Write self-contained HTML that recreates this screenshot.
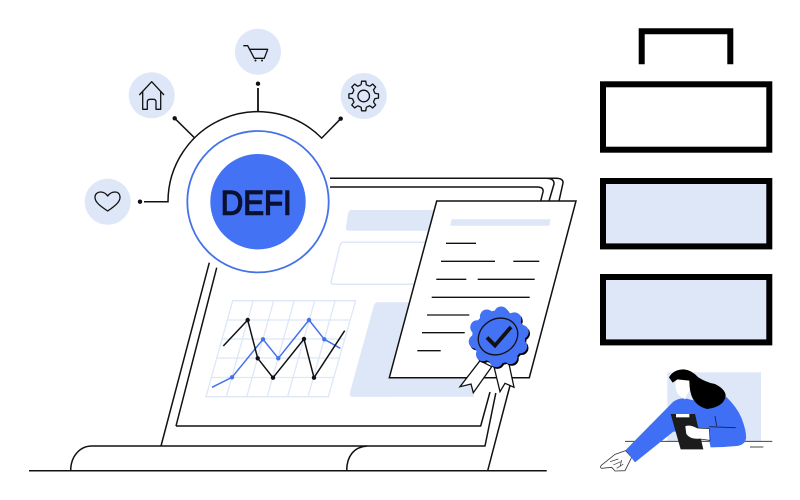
<!DOCTYPE html>
<html><head><meta charset="utf-8"><style>
html,body{margin:0;padding:0;background:#fff;width:800px;height:500px;overflow:hidden}
svg{display:block}
</style></head><body>
<svg width="800" height="500" viewBox="0 0 800 500" xmlns="http://www.w3.org/2000/svg">
<rect width="800" height="500" fill="#fff"/>
<!-- right boxes -->
<g fill="none" stroke="#000" stroke-width="6">
<path d="M641.7 64.3V31.3H730.3V64.3"/>
<rect x="603" y="84.3" width="166.3" height="65.4" fill="#fff"/>
<rect x="603" y="181" width="166.3" height="65.4" fill="#dde7f8"/>
<rect x="603" y="277" width="166.3" height="65.4" fill="#dde7f8"/>
</g>
<!-- laptop -->
<g fill="none" stroke="#111" stroke-width="1.5" stroke-linejoin="round">
<path d="M29 470.7H546.7"/>
<path d="M70.7 470.7C70.7 456 80 446 92 446H485L495.800 393"/>
<path d="M346.7 470.7C346.7 456 354 447 367 446"/>
<path d="M161 446L209.3 262.7"/>
<path d="M176 426L216.7 267.7"/>
<path d="M176 426H480.7L490 392"/>
<path d="M487.7 470.7L508.3 392L559 201L563 183Q563.500 178.300 556 178.300H330"/>
<path d="M549 201L554 184Q554.500 178.300 546 178.300"/>
<path d="M330 187H537Q544 187 543 192L540.700 201"/>
</g>
<!-- panels -->
<path d="M351 210H440L430 230.700H349Q345 230.700 346 227L348 213Q349 210 351 210Z" fill="#dde7f8"/>
<path d="M343 242.300H440V284.300H334Q330 284.300 331.500 280L340 245Q341 242.300 343 242.300Z" fill="#fff" stroke="#dde7f8" stroke-width="1.500"/>
<path d="M378 302.300H430L395 396.700H353Q349 396.700 350 392L374 305Q375 302.300 378 302.300Z" fill="#dde7f8"/>
<path d="M378 378H470L474 396.700H350Z" fill="#dde7f8"/>
<!-- chart -->
<g fill="none" stroke="#dde7f8" stroke-width="1.300">
<path d="M232.700 300.700H355.700L328.300 396.700H206Z"/>
<path d="M227.300 320H350.200M221.800 339H344.800M216.400 358H339.400M210.900 377.500H333.800"/>
<path d="M253.200 300.700L226.400 396.700M273.700 300.700L246.800 396.700M294.200 300.700L267.200 396.700M314.700 300.700L287.600 396.700M335.200 300.700L308 396.700"/>
</g>
<polyline points="212,387.300 232,377.300 263,339.300 278.300,358.300 309,320 324.300,339.300 340.300,348.300" fill="none" stroke="#4472e8" stroke-width="1.500"/>
<g fill="#4472e8"><circle cx="232" cy="377.300" r="2.200"/><circle cx="263" cy="339.300" r="2.200"/><circle cx="278.300" cy="358.300" r="2.200"/><circle cx="309" cy="320" r="2.200"/><circle cx="324.300" cy="339.300" r="2.200"/></g>
<polyline points="223.300,346 247.700,320 257.700,358.300 273,377.700 304,339 314,377.700 344.700,330.700" fill="none" stroke="#111" stroke-width="1.500"/>
<g fill="#111"><circle cx="247.700" cy="320" r="2.200"/><circle cx="257.700" cy="358.300" r="2.200"/><circle cx="273" cy="377.700" r="2.200"/><circle cx="304" cy="339" r="2.200"/><circle cx="314" cy="377.700" r="2.200"/></g>
<!-- document -->
<polygon points="436.700,201 576,201 529.300,377.700 389.300,377.700" fill="#fff" stroke="#111" stroke-width="1.500"/>
<polygon points="451.700,219.300 550.700,219.300 549.300,225.700 450.200,225.700" fill="#dde7f8"/>
<path d="M446 243.300H476M441 261.300H495M513.300 261.300H539.300M436.300 279.300H466.300M477.700 279.300H534.700M431.700 297.300H529.700M427 315H469.300M422 332.700H464.700M417.300 350.700H440.700" stroke="#111" stroke-width="1.300" fill="none"/>
<!-- ribbons -->
<g fill="#fff" stroke="#111" stroke-width="1.300" stroke-linejoin="miter">
<polygon points="480,360.700 460,386.700 471,384 473.300,392.700 491.700,366.700"/>
<polygon points="494,366.700 500,391.700 505,383.300 514,387.300 508.300,360.700"/>
</g>
<!-- seal -->
<g transform="translate(500,338.500) rotate(-12)" fill="#000">
<circle r="26.500"/><circle cx="23.500" r="7"/><circle cx="19" cy="13.800" r="7"/><circle cx="7.300" cy="22.300" r="7"/><circle cx="-7.300" cy="22.300" r="7"/><circle cx="-19" cy="13.800" r="7"/><circle cx="-23.500" r="7"/><circle cx="-19" cy="-13.800" r="7"/><circle cx="-7.300" cy="-22.300" r="7"/><circle cx="7.300" cy="-22.300" r="7"/><circle cx="19" cy="-13.800" r="7"/>
</g>
<g transform="translate(498.700,336.800) rotate(-12)" fill="#4472f5">
<circle r="26.500"/><circle cx="23.500" r="7"/><circle cx="19" cy="13.800" r="7"/><circle cx="7.300" cy="22.300" r="7"/><circle cx="-7.300" cy="22.300" r="7"/><circle cx="-19" cy="13.800" r="7"/><circle cx="-23.500" r="7"/><circle cx="-19" cy="-13.800" r="7"/><circle cx="-7.300" cy="-22.300" r="7"/><circle cx="7.300" cy="-22.300" r="7"/><circle cx="19" cy="-13.800" r="7"/>
</g>
<ellipse cx="498" cy="336.500" rx="20.500" ry="17.500" transform="rotate(-32 498 336.500)" fill="none" stroke="#111" stroke-width="1.300"/>
<polyline points="487,337.500 495,345.500 511,327" fill="none" stroke="#111" stroke-width="3.800"/>
<!-- hub -->
<circle cx="258" cy="201.700" r="70.700" fill="#fff" stroke="#4472e8" stroke-width="1.800"/>
<circle cx="258" cy="201.700" r="47.700" fill="#4472f5"/>
<text x="220.700" y="214.500" font-family="'Liberation Sans',sans-serif" font-size="34.500" font-weight="400" textLength="71" lengthAdjust="spacingAndGlyphs" fill="#0a1030" stroke="#0a1030" stroke-width="1.400">DEFI</text>
<g fill="none" stroke="#111" stroke-width="1.500">
<path d="M144 201.700H168A90 90 0 0 1 321.700 138.100L340.700 118.700"/>
<path d="M174.700 118.300L194 137.300"/>
<path d="M258 88V111.700" stroke-width="1.800"/>
</g>
<g fill="#111"><circle cx="140" cy="201.700" r="2.200"/><circle cx="174.700" cy="118.300" r="2.200"/><circle cx="258" cy="83.700" r="2.200"/><circle cx="340.700" cy="118.700" r="2.200"/></g>
<!-- icon discs -->
<g fill="#dde7f8"><circle cx="258" cy="51.700" r="23"/><circle cx="151.700" cy="95.300" r="23"/><circle cx="363.700" cy="96" r="23"/><circle cx="107.700" cy="201.700" r="23"/></g>
<g fill="none" stroke="#111" stroke-width="1.300" stroke-linejoin="round">
<path d="M107.700 211C100 206 95 202 95 197.500C95 193.500 98 192 100.500 192C103.500 192 106 193.500 107.700 196C109.500 193.500 112 192 115 192C118 192 120 194 120 197.500C120 202 115 206 107.700 211Z"/>
<path d="M139.300 95L151.700 81.700L164 95"/>
<path d="M142.700 91.500V109.300H147.300V102Q147.300 99.300 150 99.300H153.500Q156 99.300 156 102V109.300H160.700V91.500"/>
<path d="M243.300 45.700H247.700L254.300 58.300H264.300L267.700 49.300H248.800"/>
<g transform="translate(363.700 96)">
<circle r="5.800"/>
<polyline points="-2.600,-11.200 -2.100,-14.800 2.100,-14.800 2.600,-11.200 6.080,-9.760"/>
<polyline transform="rotate(45)" points="-2.600,-11.200 -2.100,-14.800 2.100,-14.800 2.600,-11.200 6.080,-9.760"/>
<polyline transform="rotate(90)" points="-2.600,-11.200 -2.100,-14.800 2.100,-14.800 2.600,-11.200 6.080,-9.760"/>
<polyline transform="rotate(135)" points="-2.600,-11.200 -2.100,-14.800 2.100,-14.800 2.600,-11.200 6.080,-9.760"/>
<polyline transform="rotate(180)" points="-2.600,-11.200 -2.100,-14.800 2.100,-14.800 2.600,-11.200 6.080,-9.760"/>
<polyline transform="rotate(225)" points="-2.600,-11.200 -2.100,-14.800 2.100,-14.800 2.600,-11.200 6.080,-9.760"/>
<polyline transform="rotate(270)" points="-2.600,-11.200 -2.100,-14.800 2.100,-14.800 2.600,-11.200 6.080,-9.760"/>
<polyline transform="rotate(315)" points="-2.600,-11.200 -2.100,-14.800 2.100,-14.800 2.600,-11.200 6.080,-9.760"/>
</g>
</g>
<circle cx="255.500" cy="60.500" r="1" fill="#111"/><circle cx="262" cy="60.500" r="1" fill="#111"/>
<!-- person -->
<g transform="translate(590 360) scale(.33333)">
<rect x="232" y="37" width="281" height="207" fill="#dde7f8"/>
<path d="M105 244H547M480 261H520" stroke="#444" stroke-width="3" fill="none"/>
<path d="M107 272L75 283L35 315Q28 322 35 325L65 322L75 333L105 332L125 292Z" fill="#fff" stroke="#333" stroke-width="2.500"/>
<path d="M60 305L85 297M70 315L92 305M80 325L100 312M95 300L90 320" stroke="#333" stroke-width="2" fill="none"/>
<path d="M107 270L250 125Q268 112 290 116Q310 122 340 125L408 110Q440 140 455 175Q470 215 468 235Q465 255 440 258Q400 262 362 262L357 240L340 215L250 215L135 307Z" fill="#3f6ff5"/>
<path d="M358 200L437 203M375 168L380 198" stroke="#14204a" stroke-width="2.500" fill="none"/>
<polygon points="242,162 315,162 340,268 272,268" fill="#1c1c1c"/>
<rect x="258" y="162" width="40" height="10" fill="#fff"/>
<path d="M285 198Q300 192 322 204L358 206L360 241L330 237Q300 240 288 222Z" fill="#fff" stroke="#222" stroke-width="2"/>
<path d="M257 68L262 54L292 52Q302 65 300 80Q298 98 290 105L286 118Q270 110 262 100Q255 85 257 68Z" fill="#fff"/>
<path d="M237 52Q250 28 282 28Q305 30 325 52Q350 68 375 72Q407 88 407 108Q402 140 352 147Q322 140 308 115Q298 95 298 62L262 58L248 68Z" fill="#000"/>
</g>
</svg>
</body></html>
